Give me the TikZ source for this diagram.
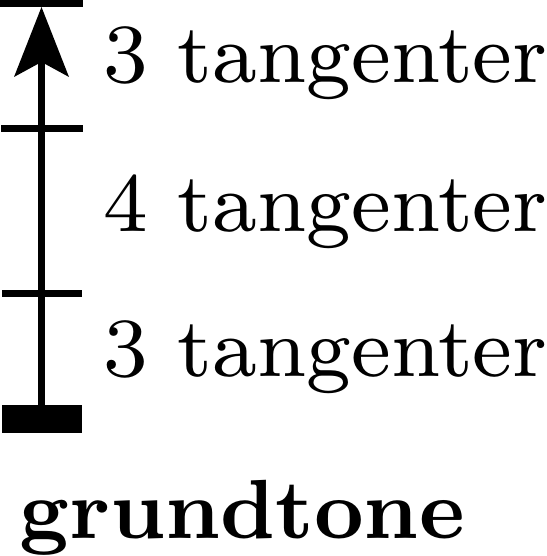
\documentclass[tikz,border=0pt]{standalone}
\begin{document}
\begin{tikzpicture}[x=1pt,y=1pt,
  tick/.style={line width=7pt},
  lbl/.style={anchor=base west,inner sep=0pt,scale=10.5,font=\fontsize{8}{9.6}\selectfont},
  blbl/.style={anchor=base west,inner sep=0pt,scale=9.33,font=\fontsize{9}{11}\selectfont\bfseries}]
\useasboundingbox (0,0) rectangle (546,556);
% axis
\coordinate (bot) at (41.5,151);
\coordinate (tip) at (41.5,549);
\coordinate (notch) at (41.5,494);
\coordinate (wl) at (14,479);
\coordinate (wr) at (69,479);
\draw[line width=7pt] (bot) -- (notch);
\fill (tip) -- (wr) -- (notch) -- (wl) -- cycle;
% ticks
\coordinate (t1a) at (0,552.5); \coordinate (t1b) at (83,552.5);
\coordinate (t2a) at (1,427.5); \coordinate (t2b) at (83,427.5);
\coordinate (t3a) at (2,262); \coordinate (t3b) at (82,262);
\draw[tick] (t1a) -- (t1b);
\draw[tick] (t2a) -- (t2b);
\draw[tick] (t3a) -- (t3b);
% base bar
\fill (2,123) rectangle (82,151);
% labels
\node[lbl] (l1) at (101.5,473) {3 tangenter};
\node[lbl] (l2) at (101.5,324) {4 tangenter};
\node[lbl] (l3) at (101.5,179) {3 tangenter};
\node[blbl] (g) at (17.5,18) {grundtone};
\end{tikzpicture}
\end{document}
